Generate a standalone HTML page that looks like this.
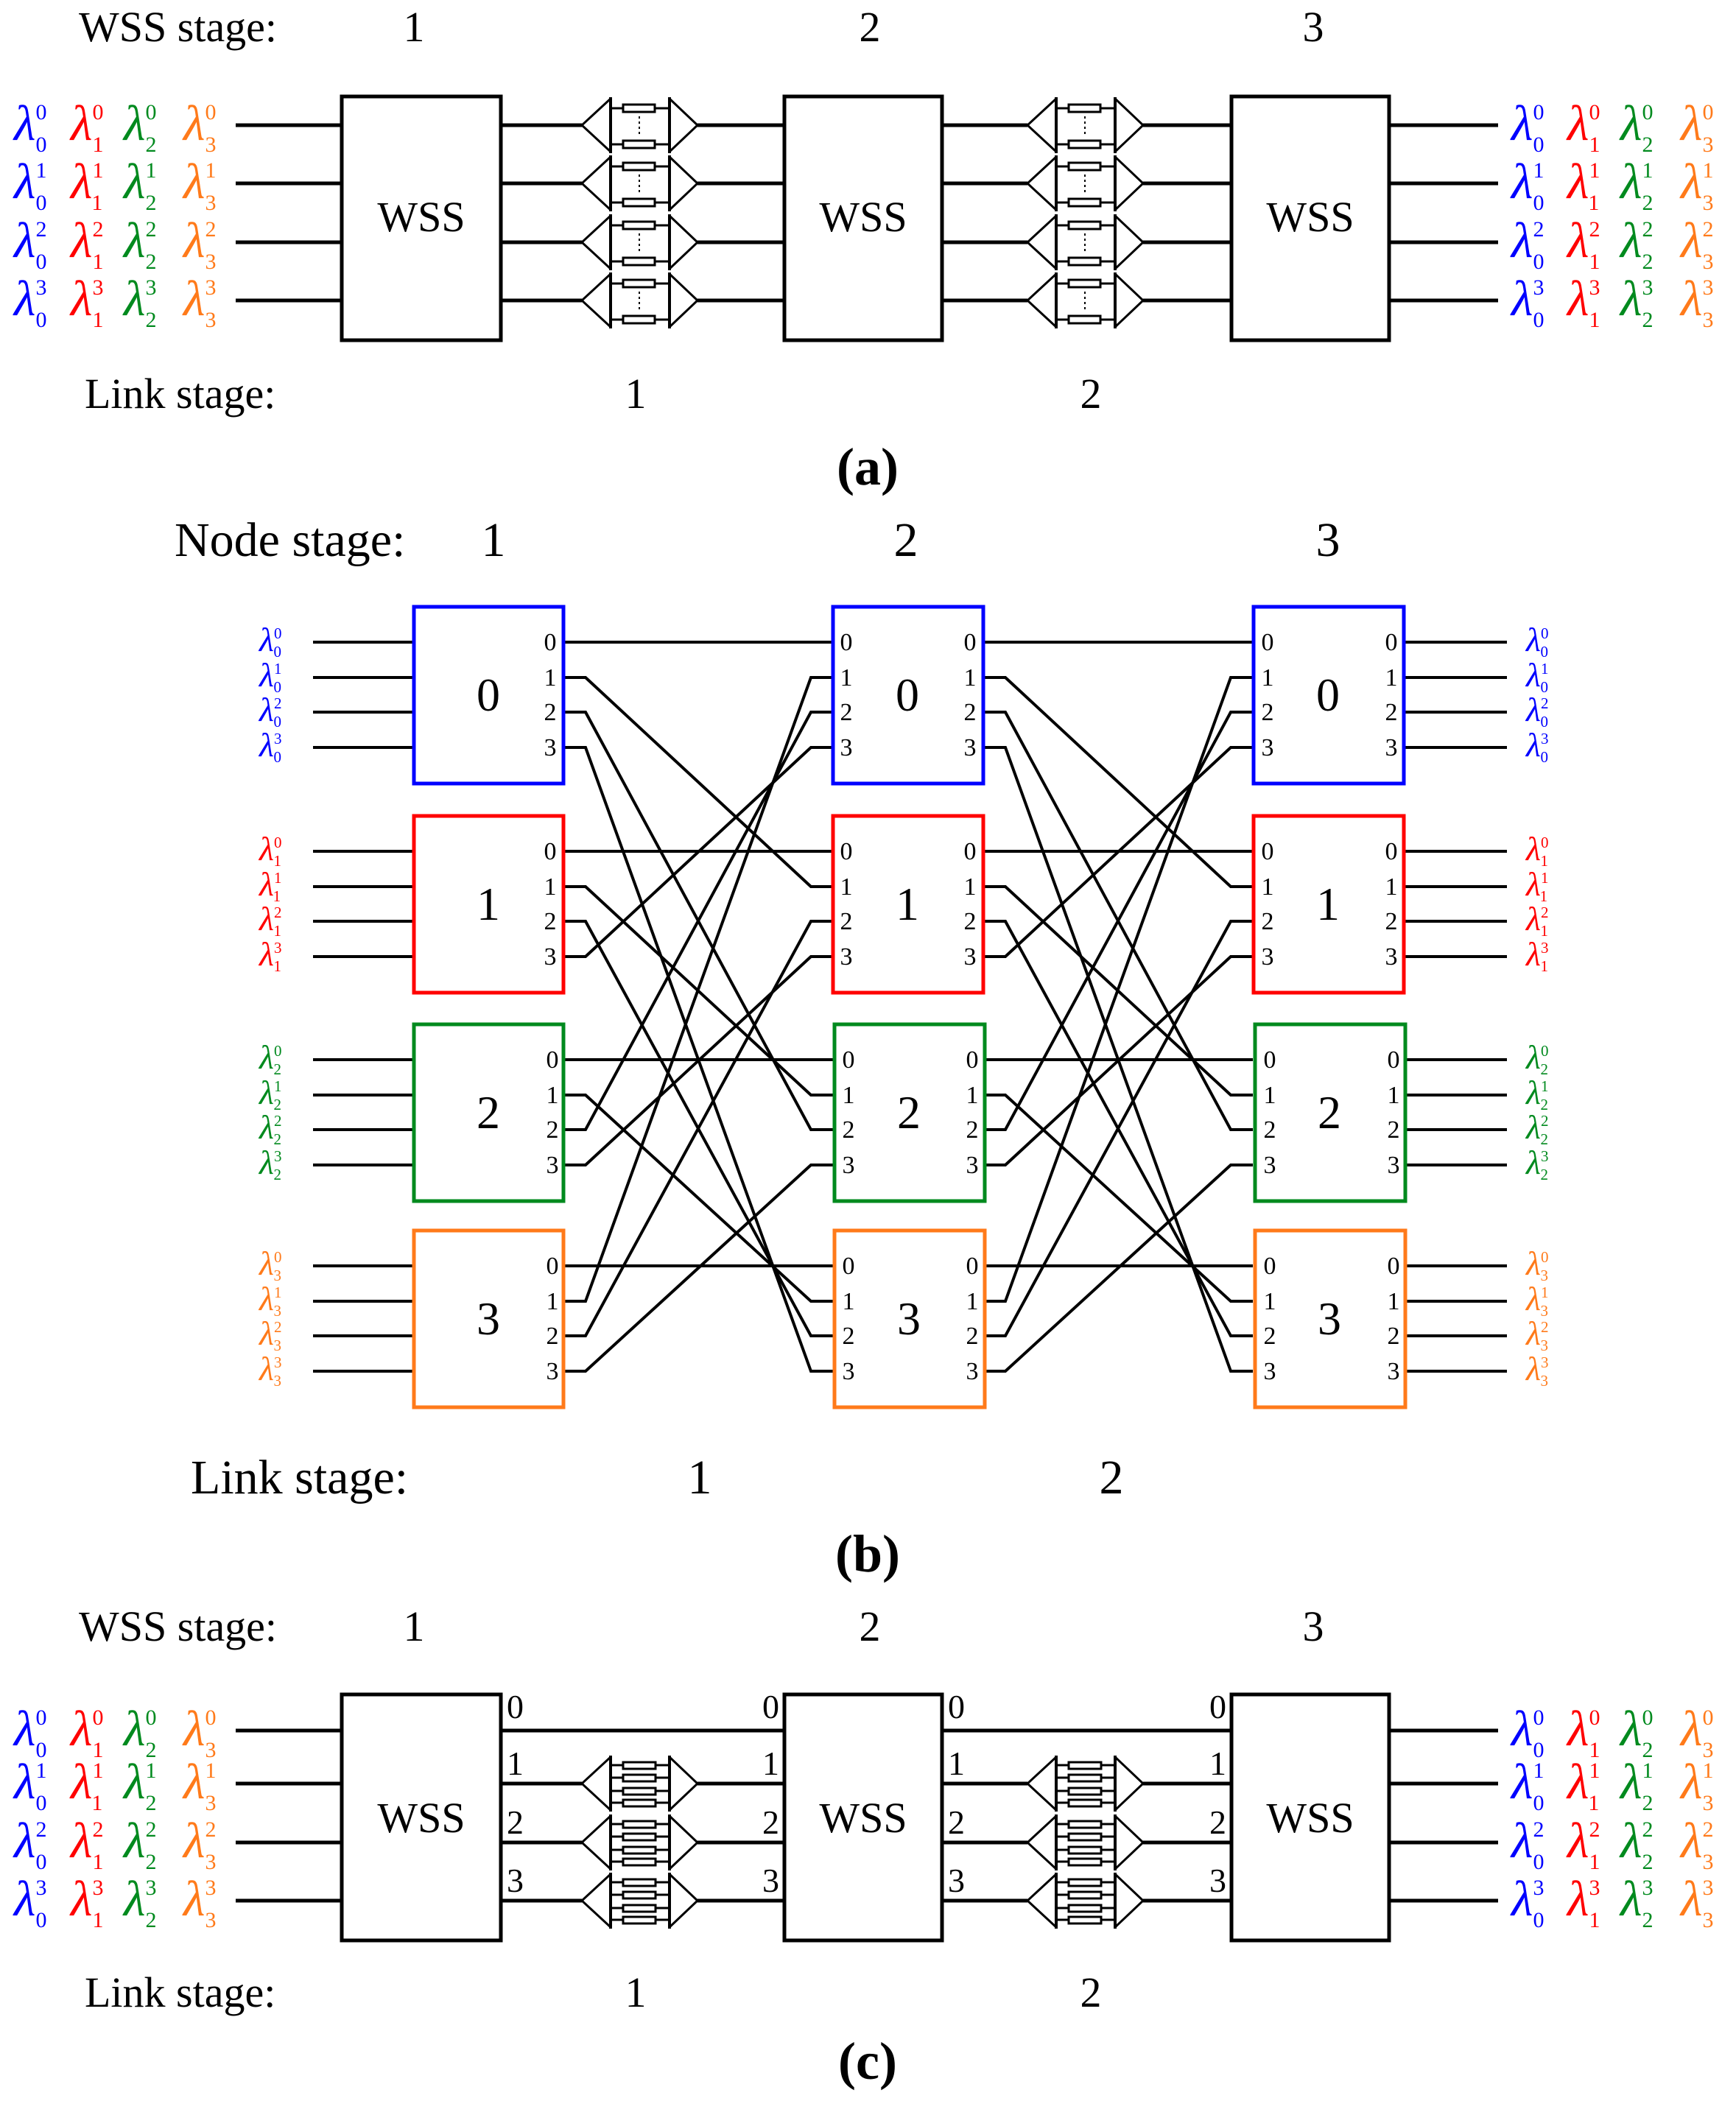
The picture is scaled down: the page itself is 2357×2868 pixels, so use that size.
<!DOCTYPE html>
<html><head><meta charset="utf-8">
<style>
html,body{margin:0;padding:0;background:#fff}
svg{display:block}
text{font-family:"Liberation Serif",serif}
.A{font-size:68px;font-style:italic}
.B{font-size:46px;font-style:italic}
.s{font-size:30px;font-style:normal}
.t{font-size:21px;font-style:normal}
.h{font-size:58px}
.hb{font-size:66px}
.p{font-size:34px}
.pc{font-size:46px}
.n{font-size:64px}
.cap{font-size:72px;font-weight:bold}
</style></head><body>
<svg width="2357" height="2868" viewBox="0 0 2357 2868" xmlns="http://www.w3.org/2000/svg">
<defs>
<g id="muxa" fill="none" stroke="#000" stroke-width="3">
<path d="M39,-36 L0,0 L39,36 M119,-36 L157,0 L119,36" />
<path d="M39,-38 V38 M119,-38 V38" stroke-width="4"/>
<path d="M39,-23 H119 M39,26 H119"/>
<rect x="56" y="-28" width="43" height="10" fill="#fff"/>
<rect x="56" y="21" width="43" height="10" fill="#fff"/>
<path d="M78,-12 V14" stroke-dasharray="3,4" stroke-width="2"/>
</g>
<g id="muxc" fill="none" stroke="#000" stroke-width="3">
<path d="M39,-36 L0,0 L39,36 M119,-36 L157,0 L119,36" />
<path d="M39,-38 V38 M119,-38 V38" stroke-width="4"/>
<path d="M39,-25 H119 M39,-8 H119 M39,10 H119 M39,26 H119"/>
<rect x="56" y="-29" width="44" height="9" fill="#fff"/>
<rect x="56" y="-12" width="44" height="9" fill="#fff"/>
<rect x="56" y="6" width="44" height="9" fill="#fff"/>
<rect x="56" y="22" width="44" height="9" fill="#fff"/>
</g>
</defs>

<!-- ================= (a) ================= -->
<text x="107" y="56" class="h">WSS stage:</text>
<text x="562" y="56" class="h" text-anchor="middle">1</text>
<text x="1181" y="56" class="h" text-anchor="middle">2</text>
<text x="1783" y="56" class="h" text-anchor="middle">3</text>
<g fill="#fff" stroke="#000" stroke-width="5">
<rect x="464" y="131" width="216" height="331"/>
<rect x="1065" y="131" width="214" height="331"/>
<rect x="1672" y="131" width="214" height="331"/>
</g>
<text x="572" y="314" class="h" text-anchor="middle">WSS</text>
<text x="1172" y="314" class="h" text-anchor="middle">WSS</text>
<text x="1779" y="314" class="h" text-anchor="middle">WSS</text>
<g stroke="#000" stroke-width="5">
<path d="M320,170H464 M320,249H464 M320,329H464 M320,408H464"/>
<path d="M680,170H790 M680,249H790 M680,329H790 M680,408H790"/>
<path d="M947,170H1065 M947,249H1065 M947,329H1065 M947,408H1065"/>
<path d="M1279,170H1395 M1279,249H1395 M1279,329H1395 M1279,408H1395"/>
<path d="M1552,170H1672 M1552,249H1672 M1552,329H1672 M1552,408H1672"/>
<path d="M1886,170H2034 M1886,249H2034 M1886,329H2034 M1886,408H2034"/>
</g>
<use href="#muxa" x="790" y="170"/><use href="#muxa" x="790" y="249"/><use href="#muxa" x="790" y="329"/><use href="#muxa" x="790" y="408"/>
<use href="#muxa" x="1395" y="170"/><use href="#muxa" x="1395" y="249"/><use href="#muxa" x="1395" y="329"/><use href="#muxa" x="1395" y="408"/>
<text x="115" y="554" class="h">Link stage:</text>
<text x="863" y="554" class="h" text-anchor="middle">1</text>
<text x="1481" y="554" class="h" text-anchor="middle">2</text>
<text x="1178" y="658" class="cap" text-anchor="middle">(a)</text>

<g class="A">
<text x="19" y="190" fill="#0000ff">λ<tspan class="s" dy="-28">0</tspan><tspan class="s" dx="-15" dy="44">0</tspan></text>
<text x="96" y="190" fill="#ff0000">λ<tspan class="s" dy="-28">0</tspan><tspan class="s" dx="-15" dy="44">1</tspan></text>
<text x="168" y="190" fill="#008a1e">λ<tspan class="s" dy="-28">0</tspan><tspan class="s" dx="-15" dy="44">2</tspan></text>
<text x="249" y="190" fill="#ff7a1a">λ<tspan class="s" dy="-28">0</tspan><tspan class="s" dx="-15" dy="44">3</tspan></text>
<text x="19" y="269" fill="#0000ff">λ<tspan class="s" dy="-28">1</tspan><tspan class="s" dx="-15" dy="44">0</tspan></text>
<text x="96" y="269" fill="#ff0000">λ<tspan class="s" dy="-28">1</tspan><tspan class="s" dx="-15" dy="44">1</tspan></text>
<text x="168" y="269" fill="#008a1e">λ<tspan class="s" dy="-28">1</tspan><tspan class="s" dx="-15" dy="44">2</tspan></text>
<text x="249" y="269" fill="#ff7a1a">λ<tspan class="s" dy="-28">1</tspan><tspan class="s" dx="-15" dy="44">3</tspan></text>
<text x="19" y="349" fill="#0000ff">λ<tspan class="s" dy="-28">2</tspan><tspan class="s" dx="-15" dy="44">0</tspan></text>
<text x="96" y="349" fill="#ff0000">λ<tspan class="s" dy="-28">2</tspan><tspan class="s" dx="-15" dy="44">1</tspan></text>
<text x="168" y="349" fill="#008a1e">λ<tspan class="s" dy="-28">2</tspan><tspan class="s" dx="-15" dy="44">2</tspan></text>
<text x="249" y="349" fill="#ff7a1a">λ<tspan class="s" dy="-28">2</tspan><tspan class="s" dx="-15" dy="44">3</tspan></text>
<text x="19" y="428" fill="#0000ff">λ<tspan class="s" dy="-28">3</tspan><tspan class="s" dx="-15" dy="44">0</tspan></text>
<text x="96" y="428" fill="#ff0000">λ<tspan class="s" dy="-28">3</tspan><tspan class="s" dx="-15" dy="44">1</tspan></text>
<text x="168" y="428" fill="#008a1e">λ<tspan class="s" dy="-28">3</tspan><tspan class="s" dx="-15" dy="44">2</tspan></text>
<text x="249" y="428" fill="#ff7a1a">λ<tspan class="s" dy="-28">3</tspan><tspan class="s" dx="-15" dy="44">3</tspan></text>
<text x="2052" y="190" fill="#0000ff">λ<tspan class="s" dy="-28">0</tspan><tspan class="s" dx="-15" dy="44">0</tspan></text>
<text x="2128" y="190" fill="#ff0000">λ<tspan class="s" dy="-28">0</tspan><tspan class="s" dx="-15" dy="44">1</tspan></text>
<text x="2200" y="190" fill="#008a1e">λ<tspan class="s" dy="-28">0</tspan><tspan class="s" dx="-15" dy="44">2</tspan></text>
<text x="2282" y="190" fill="#ff7a1a">λ<tspan class="s" dy="-28">0</tspan><tspan class="s" dx="-15" dy="44">3</tspan></text>
<text x="2052" y="269" fill="#0000ff">λ<tspan class="s" dy="-28">1</tspan><tspan class="s" dx="-15" dy="44">0</tspan></text>
<text x="2128" y="269" fill="#ff0000">λ<tspan class="s" dy="-28">1</tspan><tspan class="s" dx="-15" dy="44">1</tspan></text>
<text x="2200" y="269" fill="#008a1e">λ<tspan class="s" dy="-28">1</tspan><tspan class="s" dx="-15" dy="44">2</tspan></text>
<text x="2282" y="269" fill="#ff7a1a">λ<tspan class="s" dy="-28">1</tspan><tspan class="s" dx="-15" dy="44">3</tspan></text>
<text x="2052" y="349" fill="#0000ff">λ<tspan class="s" dy="-28">2</tspan><tspan class="s" dx="-15" dy="44">0</tspan></text>
<text x="2128" y="349" fill="#ff0000">λ<tspan class="s" dy="-28">2</tspan><tspan class="s" dx="-15" dy="44">1</tspan></text>
<text x="2200" y="349" fill="#008a1e">λ<tspan class="s" dy="-28">2</tspan><tspan class="s" dx="-15" dy="44">2</tspan></text>
<text x="2282" y="349" fill="#ff7a1a">λ<tspan class="s" dy="-28">2</tspan><tspan class="s" dx="-15" dy="44">3</tspan></text>
<text x="2052" y="428" fill="#0000ff">λ<tspan class="s" dy="-28">3</tspan><tspan class="s" dx="-15" dy="44">0</tspan></text>
<text x="2128" y="428" fill="#ff0000">λ<tspan class="s" dy="-28">3</tspan><tspan class="s" dx="-15" dy="44">1</tspan></text>
<text x="2200" y="428" fill="#008a1e">λ<tspan class="s" dy="-28">3</tspan><tspan class="s" dx="-15" dy="44">2</tspan></text>
<text x="2282" y="428" fill="#ff7a1a">λ<tspan class="s" dy="-28">3</tspan><tspan class="s" dx="-15" dy="44">3</tspan></text>
</g>

<!-- ================= (b) ================= -->
<text x="237" y="755" class="hb">Node stage:</text>
<text x="670" y="755" class="hb" text-anchor="middle">1</text>
<text x="1230" y="755" class="hb" text-anchor="middle">2</text>
<text x="1803" y="755" class="hb" text-anchor="middle">3</text>

<g stroke="#000" stroke-width="4" fill="none">
<path d="M425,872H562 M425,920H562 M425,967H562 M425,1015H562 M425,1156H562 M425,1204H562 M425,1251H562 M425,1299H562 M425,1439H562 M425,1487H562 M425,1534H562 M425,1582H562 M425,1719H562 M425,1767H562 M425,1814H562 M425,1862H562"/>
<path d="M1906,872H2046 M1906,920H2046 M1906,967H2046 M1906,1015H2046 M1906,1156H2046 M1906,1204H2046 M1906,1251H2046 M1906,1299H2046 M1906,1439H2046 M1906,1487H2046 M1906,1534H2046 M1906,1582H2046 M1906,1719H2046 M1906,1767H2046 M1906,1814H2046 M1906,1862H2046"/>
<path d="M765,872H1131 M765,1156H1131 M765,1439H1131 M765,1719H1131"/>
<path d="M765,920H795L1101,1204H1131 M765,1204H795L1101,1487H1131 M765,1487H795L1101,1767H1131 M765,1767H795L1101,920H1131"/>
<path d="M765,967H795L1101,1534H1131 M765,1251H795L1101,1814H1131 M765,1534H795L1101,967H1131 M765,1814H795L1101,1251H1131"/>
<path d="M765,1015H795L1101,1862H1131 M765,1299H795L1101,1015H1131 M765,1582H795L1101,1299H1131 M765,1862H795L1101,1582H1131"/>
<path d="M1335,872H1701 M1335,1156H1701 M1335,1439H1701 M1335,1719H1701"/>
<path d="M1335,920H1365L1671,1204H1701 M1335,1204H1365L1671,1487H1701 M1335,1487H1365L1671,1767H1701 M1335,1767H1365L1671,920H1701"/>
<path d="M1335,967H1365L1671,1534H1701 M1335,1251H1365L1671,1814H1701 M1335,1534H1365L1671,967H1701 M1335,1814H1365L1671,1251H1701"/>
<path d="M1335,1015H1365L1671,1862H1701 M1335,1299H1365L1671,1015H1701 M1335,1582H1365L1671,1299H1701 M1335,1862H1365L1671,1582H1701"/>
</g>

<g fill="#fff" stroke-width="5">
<rect x="562" y="824" width="203" height="240" stroke="#0000ff"/>
<rect x="562" y="1108" width="203" height="240" stroke="#ff0000"/>
<rect x="562" y="1391" width="203" height="240" stroke="#008a1e"/>
<rect x="562" y="1671" width="203" height="240" stroke="#ff7a1a"/>
<rect x="1131" y="824" width="204" height="240" stroke="#0000ff"/>
<rect x="1131" y="1108" width="204" height="240" stroke="#ff0000"/>
<rect x="1133" y="1391" width="204" height="240" stroke="#008a1e"/>
<rect x="1133" y="1671" width="204" height="240" stroke="#ff7a1a"/>
<rect x="1702" y="824" width="204" height="240" stroke="#0000ff"/>
<rect x="1702" y="1108" width="204" height="240" stroke="#ff0000"/>
<rect x="1704" y="1391" width="204" height="240" stroke="#008a1e"/>
<rect x="1704" y="1671" width="204" height="240" stroke="#ff7a1a"/>
</g>
<g class="n" text-anchor="middle">
<text x="663" y="965">0</text><text x="663" y="1249">1</text><text x="663" y="1532">2</text><text x="663" y="1812">3</text>
<text x="1232" y="965">0</text><text x="1232" y="1249">1</text><text x="1234" y="1532">2</text><text x="1234" y="1812">3</text>
<text x="1803" y="965">0</text><text x="1803" y="1249">1</text><text x="1805" y="1532">2</text><text x="1805" y="1812">3</text>
</g>
<g class="p" text-anchor="middle">
<text x="747" y="883">0</text><text x="747" y="931">1</text><text x="747" y="978">2</text><text x="747" y="1026">3</text>
<text x="747" y="1167">0</text><text x="747" y="1215">1</text><text x="747" y="1262">2</text><text x="747" y="1310">3</text>
<text x="750" y="1450">0</text><text x="750" y="1498">1</text><text x="750" y="1545">2</text><text x="750" y="1593">3</text>
<text x="750" y="1730">0</text><text x="750" y="1778">1</text><text x="750" y="1825">2</text><text x="750" y="1873">3</text>
<text x="1149" y="883">0</text><text x="1149" y="931">1</text><text x="1149" y="978">2</text><text x="1149" y="1026">3</text>
<text x="1149" y="1167">0</text><text x="1149" y="1215">1</text><text x="1149" y="1262">2</text><text x="1149" y="1310">3</text>
<text x="1152" y="1450">0</text><text x="1152" y="1498">1</text><text x="1152" y="1545">2</text><text x="1152" y="1593">3</text>
<text x="1152" y="1730">0</text><text x="1152" y="1778">1</text><text x="1152" y="1825">2</text><text x="1152" y="1873">3</text>
<text x="1317" y="883">0</text><text x="1317" y="931">1</text><text x="1317" y="978">2</text><text x="1317" y="1026">3</text>
<text x="1317" y="1167">0</text><text x="1317" y="1215">1</text><text x="1317" y="1262">2</text><text x="1317" y="1310">3</text>
<text x="1320" y="1450">0</text><text x="1320" y="1498">1</text><text x="1320" y="1545">2</text><text x="1320" y="1593">3</text>
<text x="1320" y="1730">0</text><text x="1320" y="1778">1</text><text x="1320" y="1825">2</text><text x="1320" y="1873">3</text>
<text x="1721" y="883">0</text><text x="1721" y="931">1</text><text x="1721" y="978">2</text><text x="1721" y="1026">3</text>
<text x="1721" y="1167">0</text><text x="1721" y="1215">1</text><text x="1721" y="1262">2</text><text x="1721" y="1310">3</text>
<text x="1724" y="1450">0</text><text x="1724" y="1498">1</text><text x="1724" y="1545">2</text><text x="1724" y="1593">3</text>
<text x="1724" y="1730">0</text><text x="1724" y="1778">1</text><text x="1724" y="1825">2</text><text x="1724" y="1873">3</text>
<text x="1889" y="883">0</text><text x="1889" y="931">1</text><text x="1889" y="978">2</text><text x="1889" y="1026">3</text>
<text x="1889" y="1167">0</text><text x="1889" y="1215">1</text><text x="1889" y="1262">2</text><text x="1889" y="1310">3</text>
<text x="1892" y="1450">0</text><text x="1892" y="1498">1</text><text x="1892" y="1545">2</text><text x="1892" y="1593">3</text>
<text x="1892" y="1730">0</text><text x="1892" y="1778">1</text><text x="1892" y="1825">2</text><text x="1892" y="1873">3</text>
</g>
<g class="B">
<text x="352" y="884" fill="#0000ff">λ<tspan class="t" dy="-17">0</tspan><tspan class="t" dx="-11" dy="25">0</tspan></text>
<text x="352" y="932" fill="#0000ff">λ<tspan class="t" dy="-17">1</tspan><tspan class="t" dx="-11" dy="25">0</tspan></text>
<text x="352" y="979" fill="#0000ff">λ<tspan class="t" dy="-17">2</tspan><tspan class="t" dx="-11" dy="25">0</tspan></text>
<text x="352" y="1027" fill="#0000ff">λ<tspan class="t" dy="-17">3</tspan><tspan class="t" dx="-11" dy="25">0</tspan></text>
<text x="352" y="1168" fill="#ff0000">λ<tspan class="t" dy="-17">0</tspan><tspan class="t" dx="-11" dy="25">1</tspan></text>
<text x="352" y="1216" fill="#ff0000">λ<tspan class="t" dy="-17">1</tspan><tspan class="t" dx="-11" dy="25">1</tspan></text>
<text x="352" y="1263" fill="#ff0000">λ<tspan class="t" dy="-17">2</tspan><tspan class="t" dx="-11" dy="25">1</tspan></text>
<text x="352" y="1311" fill="#ff0000">λ<tspan class="t" dy="-17">3</tspan><tspan class="t" dx="-11" dy="25">1</tspan></text>
<text x="352" y="1451" fill="#008a1e">λ<tspan class="t" dy="-17">0</tspan><tspan class="t" dx="-11" dy="25">2</tspan></text>
<text x="352" y="1499" fill="#008a1e">λ<tspan class="t" dy="-17">1</tspan><tspan class="t" dx="-11" dy="25">2</tspan></text>
<text x="352" y="1546" fill="#008a1e">λ<tspan class="t" dy="-17">2</tspan><tspan class="t" dx="-11" dy="25">2</tspan></text>
<text x="352" y="1594" fill="#008a1e">λ<tspan class="t" dy="-17">3</tspan><tspan class="t" dx="-11" dy="25">2</tspan></text>
<text x="352" y="1731" fill="#ff7a1a">λ<tspan class="t" dy="-17">0</tspan><tspan class="t" dx="-11" dy="25">3</tspan></text>
<text x="352" y="1779" fill="#ff7a1a">λ<tspan class="t" dy="-17">1</tspan><tspan class="t" dx="-11" dy="25">3</tspan></text>
<text x="352" y="1826" fill="#ff7a1a">λ<tspan class="t" dy="-17">2</tspan><tspan class="t" dx="-11" dy="25">3</tspan></text>
<text x="352" y="1874" fill="#ff7a1a">λ<tspan class="t" dy="-17">3</tspan><tspan class="t" dx="-11" dy="25">3</tspan></text>
<text x="2072" y="884" fill="#0000ff">λ<tspan class="t" dy="-17">0</tspan><tspan class="t" dx="-11" dy="25">0</tspan></text>
<text x="2072" y="932" fill="#0000ff">λ<tspan class="t" dy="-17">1</tspan><tspan class="t" dx="-11" dy="25">0</tspan></text>
<text x="2072" y="979" fill="#0000ff">λ<tspan class="t" dy="-17">2</tspan><tspan class="t" dx="-11" dy="25">0</tspan></text>
<text x="2072" y="1027" fill="#0000ff">λ<tspan class="t" dy="-17">3</tspan><tspan class="t" dx="-11" dy="25">0</tspan></text>
<text x="2072" y="1168" fill="#ff0000">λ<tspan class="t" dy="-17">0</tspan><tspan class="t" dx="-11" dy="25">1</tspan></text>
<text x="2072" y="1216" fill="#ff0000">λ<tspan class="t" dy="-17">1</tspan><tspan class="t" dx="-11" dy="25">1</tspan></text>
<text x="2072" y="1263" fill="#ff0000">λ<tspan class="t" dy="-17">2</tspan><tspan class="t" dx="-11" dy="25">1</tspan></text>
<text x="2072" y="1311" fill="#ff0000">λ<tspan class="t" dy="-17">3</tspan><tspan class="t" dx="-11" dy="25">1</tspan></text>
<text x="2072" y="1451" fill="#008a1e">λ<tspan class="t" dy="-17">0</tspan><tspan class="t" dx="-11" dy="25">2</tspan></text>
<text x="2072" y="1499" fill="#008a1e">λ<tspan class="t" dy="-17">1</tspan><tspan class="t" dx="-11" dy="25">2</tspan></text>
<text x="2072" y="1546" fill="#008a1e">λ<tspan class="t" dy="-17">2</tspan><tspan class="t" dx="-11" dy="25">2</tspan></text>
<text x="2072" y="1594" fill="#008a1e">λ<tspan class="t" dy="-17">3</tspan><tspan class="t" dx="-11" dy="25">2</tspan></text>
<text x="2072" y="1731" fill="#ff7a1a">λ<tspan class="t" dy="-17">0</tspan><tspan class="t" dx="-11" dy="25">3</tspan></text>
<text x="2072" y="1779" fill="#ff7a1a">λ<tspan class="t" dy="-17">1</tspan><tspan class="t" dx="-11" dy="25">3</tspan></text>
<text x="2072" y="1826" fill="#ff7a1a">λ<tspan class="t" dy="-17">2</tspan><tspan class="t" dx="-11" dy="25">3</tspan></text>
<text x="2072" y="1874" fill="#ff7a1a">λ<tspan class="t" dy="-17">3</tspan><tspan class="t" dx="-11" dy="25">3</tspan></text>
</g>
<text x="259" y="2028" class="hb">Link stage:</text>
<text x="950" y="2028" class="hb" text-anchor="middle">1</text>
<text x="1509" y="2028" class="hb" text-anchor="middle">2</text>
<text x="1178" y="2134" class="cap" text-anchor="middle">(b)</text>

<!-- ================= (c) ================= -->
<text x="107" y="2228" class="h">WSS stage:</text>
<text x="562" y="2228" class="h" text-anchor="middle">1</text>
<text x="1181" y="2228" class="h" text-anchor="middle">2</text>
<text x="1783" y="2228" class="h" text-anchor="middle">3</text>
<g fill="#fff" stroke="#000" stroke-width="5">
<rect x="464" y="2301" width="216" height="334"/>
<rect x="1065" y="2301" width="214" height="334"/>
<rect x="1672" y="2301" width="214" height="334"/>
</g>
<text x="572" y="2488" class="h" text-anchor="middle">WSS</text>
<text x="1172" y="2488" class="h" text-anchor="middle">WSS</text>
<text x="1779" y="2488" class="h" text-anchor="middle">WSS</text>
<g stroke="#000" stroke-width="5">
<path d="M320,2350H464 M320,2422H464 M320,2502H464 M320,2581H464"/>
<path d="M680,2350H1065 M680,2422H790 M680,2502H790 M680,2581H790"/>
<path d="M947,2422H1065 M947,2502H1065 M947,2581H1065"/>
<path d="M1279,2350H1672 M1279,2422H1395 M1279,2502H1395 M1279,2581H1395"/>
<path d="M1552,2422H1672 M1552,2502H1672 M1552,2581H1672"/>
<path d="M1886,2350H2034 M1886,2422H2034 M1886,2502H2034 M1886,2581H2034"/>
</g>
<use href="#muxc" x="790" y="2422"/><use href="#muxc" x="790" y="2502"/><use href="#muxc" x="790" y="2581"/>
<use href="#muxc" x="1395" y="2422"/><use href="#muxc" x="1395" y="2502"/><use href="#muxc" x="1395" y="2581"/>
<g class="pc">
<text x="688" y="2333">0</text><text x="688" y="2410">1</text><text x="688" y="2490">2</text><text x="688" y="2569">3</text>
<text x="1287" y="2333">0</text><text x="1287" y="2410">1</text><text x="1287" y="2490">2</text><text x="1287" y="2569">3</text>
</g>
<g class="pc" text-anchor="end">
<text x="1058" y="2333">0</text><text x="1058" y="2410">1</text><text x="1058" y="2490">2</text><text x="1058" y="2569">3</text>
<text x="1665" y="2333">0</text><text x="1665" y="2410">1</text><text x="1665" y="2490">2</text><text x="1665" y="2569">3</text>
</g>
<g class="A">
<text x="19" y="2370" fill="#0000ff">λ<tspan class="s" dy="-28">0</tspan><tspan class="s" dx="-15" dy="44">0</tspan></text>
<text x="96" y="2370" fill="#ff0000">λ<tspan class="s" dy="-28">0</tspan><tspan class="s" dx="-15" dy="44">1</tspan></text>
<text x="168" y="2370" fill="#008a1e">λ<tspan class="s" dy="-28">0</tspan><tspan class="s" dx="-15" dy="44">2</tspan></text>
<text x="249" y="2370" fill="#ff7a1a">λ<tspan class="s" dy="-28">0</tspan><tspan class="s" dx="-15" dy="44">3</tspan></text>
<text x="19" y="2442" fill="#0000ff">λ<tspan class="s" dy="-28">1</tspan><tspan class="s" dx="-15" dy="44">0</tspan></text>
<text x="96" y="2442" fill="#ff0000">λ<tspan class="s" dy="-28">1</tspan><tspan class="s" dx="-15" dy="44">1</tspan></text>
<text x="168" y="2442" fill="#008a1e">λ<tspan class="s" dy="-28">1</tspan><tspan class="s" dx="-15" dy="44">2</tspan></text>
<text x="249" y="2442" fill="#ff7a1a">λ<tspan class="s" dy="-28">1</tspan><tspan class="s" dx="-15" dy="44">3</tspan></text>
<text x="19" y="2522" fill="#0000ff">λ<tspan class="s" dy="-28">2</tspan><tspan class="s" dx="-15" dy="44">0</tspan></text>
<text x="96" y="2522" fill="#ff0000">λ<tspan class="s" dy="-28">2</tspan><tspan class="s" dx="-15" dy="44">1</tspan></text>
<text x="168" y="2522" fill="#008a1e">λ<tspan class="s" dy="-28">2</tspan><tspan class="s" dx="-15" dy="44">2</tspan></text>
<text x="249" y="2522" fill="#ff7a1a">λ<tspan class="s" dy="-28">2</tspan><tspan class="s" dx="-15" dy="44">3</tspan></text>
<text x="19" y="2601" fill="#0000ff">λ<tspan class="s" dy="-28">3</tspan><tspan class="s" dx="-15" dy="44">0</tspan></text>
<text x="96" y="2601" fill="#ff0000">λ<tspan class="s" dy="-28">3</tspan><tspan class="s" dx="-15" dy="44">1</tspan></text>
<text x="168" y="2601" fill="#008a1e">λ<tspan class="s" dy="-28">3</tspan><tspan class="s" dx="-15" dy="44">2</tspan></text>
<text x="249" y="2601" fill="#ff7a1a">λ<tspan class="s" dy="-28">3</tspan><tspan class="s" dx="-15" dy="44">3</tspan></text>
<text x="2052" y="2370" fill="#0000ff">λ<tspan class="s" dy="-28">0</tspan><tspan class="s" dx="-15" dy="44">0</tspan></text>
<text x="2128" y="2370" fill="#ff0000">λ<tspan class="s" dy="-28">0</tspan><tspan class="s" dx="-15" dy="44">1</tspan></text>
<text x="2200" y="2370" fill="#008a1e">λ<tspan class="s" dy="-28">0</tspan><tspan class="s" dx="-15" dy="44">2</tspan></text>
<text x="2282" y="2370" fill="#ff7a1a">λ<tspan class="s" dy="-28">0</tspan><tspan class="s" dx="-15" dy="44">3</tspan></text>
<text x="2052" y="2442" fill="#0000ff">λ<tspan class="s" dy="-28">1</tspan><tspan class="s" dx="-15" dy="44">0</tspan></text>
<text x="2128" y="2442" fill="#ff0000">λ<tspan class="s" dy="-28">1</tspan><tspan class="s" dx="-15" dy="44">1</tspan></text>
<text x="2200" y="2442" fill="#008a1e">λ<tspan class="s" dy="-28">1</tspan><tspan class="s" dx="-15" dy="44">2</tspan></text>
<text x="2282" y="2442" fill="#ff7a1a">λ<tspan class="s" dy="-28">1</tspan><tspan class="s" dx="-15" dy="44">3</tspan></text>
<text x="2052" y="2522" fill="#0000ff">λ<tspan class="s" dy="-28">2</tspan><tspan class="s" dx="-15" dy="44">0</tspan></text>
<text x="2128" y="2522" fill="#ff0000">λ<tspan class="s" dy="-28">2</tspan><tspan class="s" dx="-15" dy="44">1</tspan></text>
<text x="2200" y="2522" fill="#008a1e">λ<tspan class="s" dy="-28">2</tspan><tspan class="s" dx="-15" dy="44">2</tspan></text>
<text x="2282" y="2522" fill="#ff7a1a">λ<tspan class="s" dy="-28">2</tspan><tspan class="s" dx="-15" dy="44">3</tspan></text>
<text x="2052" y="2601" fill="#0000ff">λ<tspan class="s" dy="-28">3</tspan><tspan class="s" dx="-15" dy="44">0</tspan></text>
<text x="2128" y="2601" fill="#ff0000">λ<tspan class="s" dy="-28">3</tspan><tspan class="s" dx="-15" dy="44">1</tspan></text>
<text x="2200" y="2601" fill="#008a1e">λ<tspan class="s" dy="-28">3</tspan><tspan class="s" dx="-15" dy="44">2</tspan></text>
<text x="2282" y="2601" fill="#ff7a1a">λ<tspan class="s" dy="-28">3</tspan><tspan class="s" dx="-15" dy="44">3</tspan></text>
</g>
<text x="115" y="2725" class="h">Link stage:</text>
<text x="863" y="2725" class="h" text-anchor="middle">1</text>
<text x="1481" y="2725" class="h" text-anchor="middle">2</text>
<text x="1178" y="2823" class="cap" text-anchor="middle">(c)</text>
</svg>
</body></html>
